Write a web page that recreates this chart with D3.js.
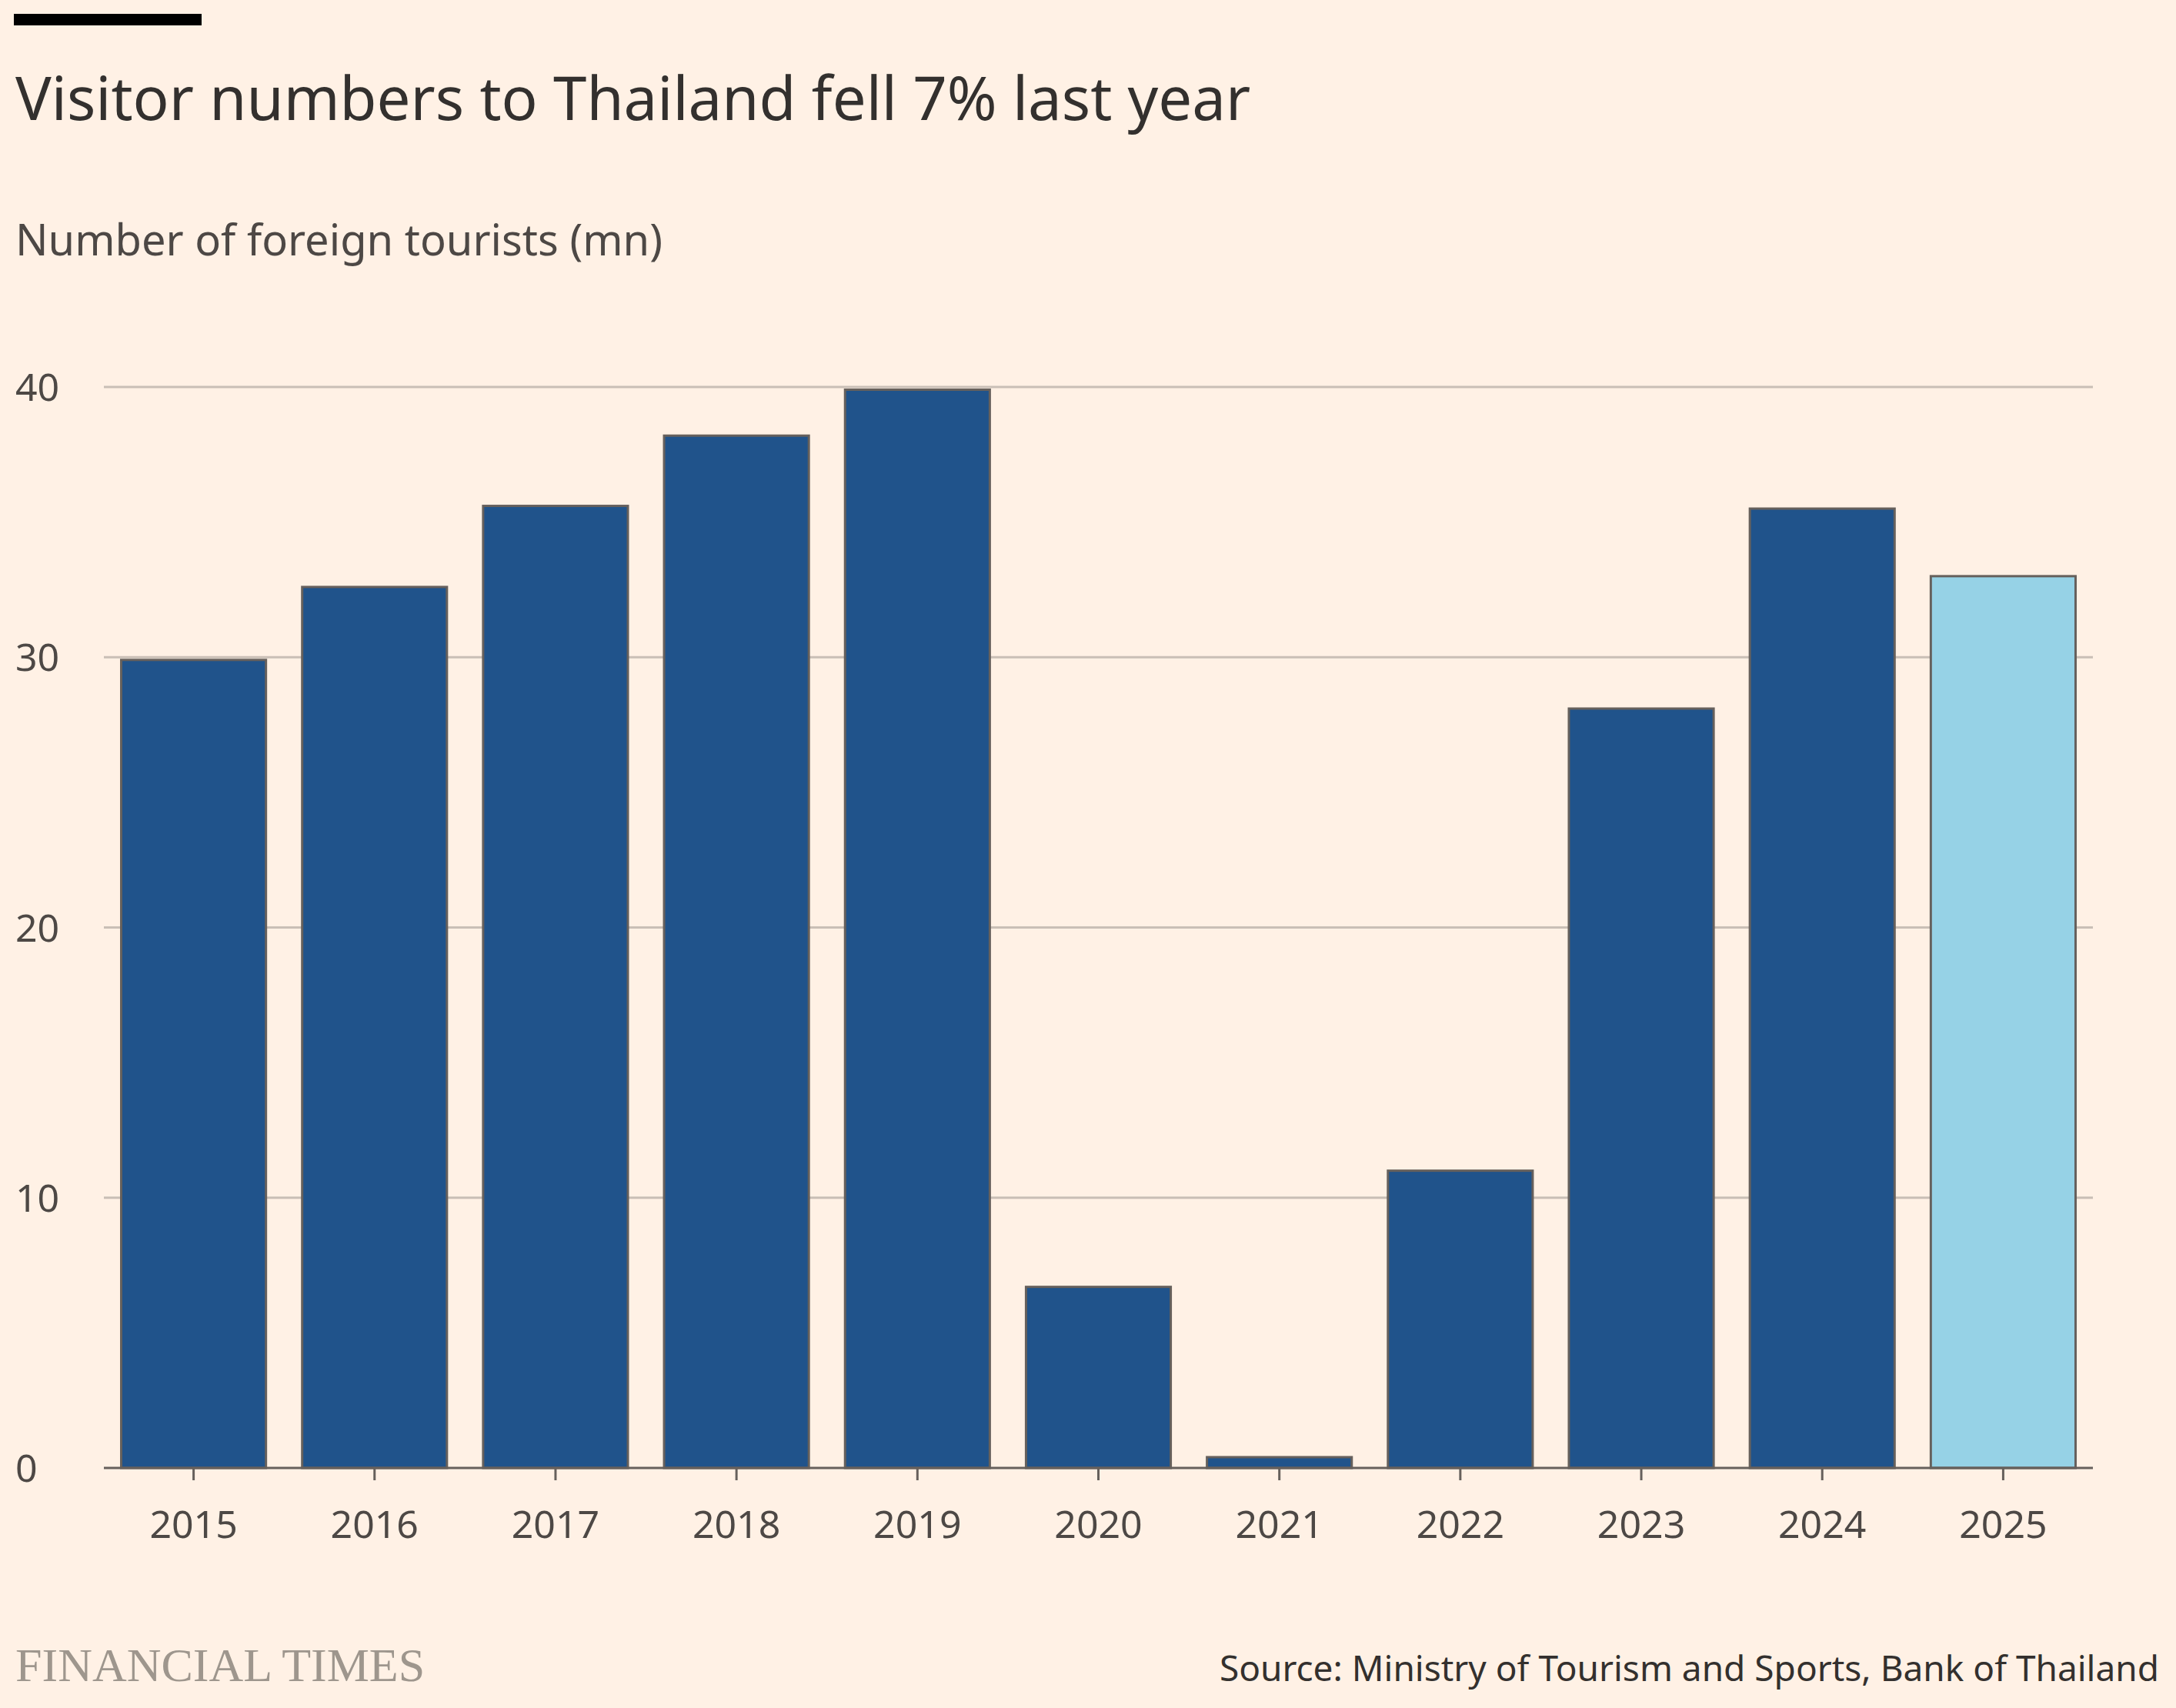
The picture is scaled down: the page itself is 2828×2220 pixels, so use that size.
<!DOCTYPE html>
<html><head><meta charset="utf-8">
<script src="https://cdn.jsdelivr.net/npm/d3@7"></script>
<style>body{margin:0;background:#fff1e5}</style></head>
<body><svg id="c" width="2828" height="2220"></svg>
<script>
const years = ["2015","2016","2017","2018","2019","2020","2021","2022","2023","2024","2025"];
const visitors = [29.9,32.6,35.6,38.2,39.9,6.7,0.4,11.0,28.1,35.5,33.0];
const yTicks = [0,10,20,30,40];
const svg = d3.select("#c");
const F = "'Noto Sans', Lato, sans-serif";
svg.append("rect").attr("width",2828).attr("height",2220).attr("fill","#fff1e5");
svg.append("rect").attr("x",18).attr("y",18).attr("width",244).attr("height",15).attr("fill","#000");
svg.append("text").attr("x",20).attr("y",156).attr("font-family",F).attr("font-size",78).attr("fill","#33302e").text("Visitor numbers to Thailand fell 7% last year");
svg.append("text").attr("x",20).attr("y",332).attr("font-family",F).attr("font-size",56).attr("fill","#4d4845").text("Number of foreign tourists (mn)");
const x = d3.scaleBand().domain(years).range([134,2721]).paddingInner(0.2).paddingOuter(0.1);
const y = d3.scaleLinear().domain([0,40]).range([1908,503]);
yTicks.forEach(t=>{
  if(t>0) svg.append("line").attr("x1",135).attr("x2",2720).attr("y1",y(t)).attr("y2",y(t)).attr("stroke","#c9bfb6").attr("stroke-width",3);
  svg.append("text").attr("x",20).attr("y",y(t)+18).attr("font-family",F).attr("font-size",50).attr("fill","#4d4845").text(t);
});
svg.selectAll(".bar").data(years).enter().append("rect")
  .attr("x",d=>x(d)).attr("width",x.bandwidth())
  .attr("y",(d,i)=>y(visitors[i])).attr("height",(d,i)=>y(0)-y(visitors[i]))
  .attr("fill",d=>d==="2025"?"#96d2e6":"#20538b").attr("stroke","#66605c").attr("stroke-width",3);
svg.append("line").attr("x1",135).attr("x2",2720).attr("y1",y(0)).attr("y2",y(0)).attr("stroke","#66605c").attr("stroke-width",3);
years.forEach(yr=>{
  const cx = x(yr)+x.bandwidth()/2;
  svg.append("line").attr("x1",cx).attr("x2",cx).attr("y1",y(0)).attr("y2",y(0)+16).attr("stroke","#66605c").attr("stroke-width",3);
  svg.append("text").attr("x",cx).attr("y",1999).attr("text-anchor","middle").attr("font-family",F).attr("font-size",50).attr("fill","#4d4845").text(yr);
});
svg.append("text").attr("x",20).attr("y",2185).attr("font-family","'Liberation Serif', serif").attr("font-size",62).attr("fill","#9e968d").text("FINANCIAL TIMES");
svg.append("text").attr("x",2806).attr("y",2185).attr("text-anchor","end").attr("font-family",F).attr("font-size",46).attr("fill","#33302e").text("Source: Ministry of Tourism and Sports, Bank of Thailand");
</script></body></html>
